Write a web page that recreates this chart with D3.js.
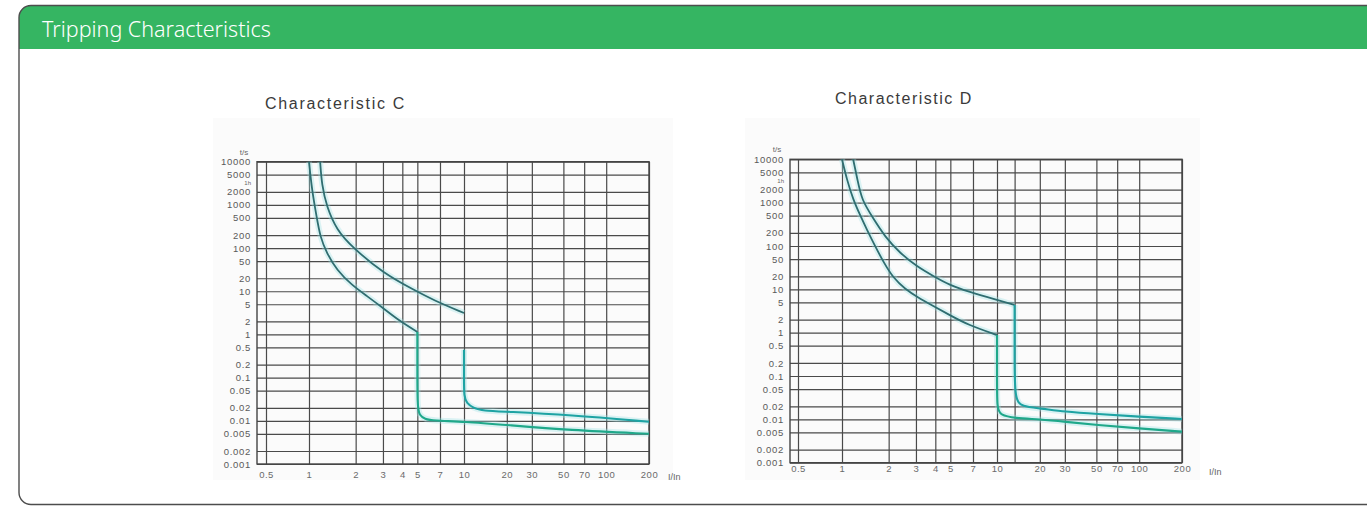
<!DOCTYPE html>
<html>
<head>
<meta charset="utf-8">
<script src="https://cdn.jsdelivr.net/npm/d3@7"></script>
<style>
  body { margin: 0; background: #fff; }
  svg { display: block; }
</style>
</head>
<body>
<div id="chart"></div>
<script>
// grid / tick values
const xTicks = [0.5, 1, 2, 3, 4, 5, 7, 10, 20, 30, 50, 70, 100, 200]
const yTicks = [10000, 5000, 2000, 1000, 500, 200, 100, 50, 20, 10, 5, 2, 1, 0.5, 0.2, 0.1, 0.05, 0.02, 0.01, 0.005, 0.002, 0.001]
const dExtraGrid = [13.3]

// characteristic C  [I/In, t in s]
const cLowerThermal = [[1, 10000], [1.045, 2200], [1.12, 530], [1.18, 183], [1.3, 77], [1.51, 31], [1.89, 13.9], [2.36, 7.8], [3, 4.1], [3.8, 2.1], [5, 1.14]]
const cLowerMagnetic = [[5, 1.14], [5, 0.3], [5, 0.021], [5.15, 0.0135], [5.6, 0.011], [6.3, 0.0101], [10, 0.0096], [20, 0.008], [55, 0.0061], [200, 0.005]]
const cUpperThermal = [[1.18, 10000], [1.21, 2900], [1.3, 906], [1.51, 262], [1.89, 107], [3, 26.4], [4.76, 10.7], [6.31, 6.3], [10, 3.13]]
const cUpperMagnetic = [[10, 0.44], [10, 0.1], [10, 0.036], [10.45, 0.0258], [11.6, 0.0198], [13.6, 0.0171], [20, 0.0163], [55, 0.0137], [200, 0.0095]]

// characteristic D
const dLowerThermal = [[1, 10000], [1.077, 3335], [1.183, 1150], [1.307, 519], [1.45, 234], [1.633, 100], [1.866, 40.5], [2.143, 18.3], [2.551, 10.2], [3.06, 6.65], [3.88, 4.13], [4.93, 2.56], [6.53, 1.5], [10, 0.88]]
const dLowerMagnetic = [[10, 0.88], [10, 0.1], [10, 0.018], [10.5, 0.0126], [13.3, 0.0106], [20, 0.01], [30, 0.0088], [50, 0.0074], [100, 0.0062], [200, 0.0052]]
const dUpperThermal = [[1.18, 10000], [1.26, 3300], [1.34, 1150], [1.59, 436], [1.89, 164], [2.37, 68], [3.06, 33.3], [3.88, 20.3], [4.93, 12.6], [6.53, 8.8], [10, 5.68], [13.3, 4.35]]
const dUpperMagnetic = [[13.3, 4.35], [13.3, 0.3], [13.3, 0.028], [15, 0.0196], [20, 0.018], [30, 0.015], [50, 0.0133], [100, 0.0115], [200, 0.0102]]

const W = 1367
const H = 506
const FONT = '"Liberation Sans", Arial, sans-serif'

const svg = d3.select('#chart').append('svg')
  .attr('width', W)
  .attr('height', H)

// card with green header
svg.append('defs').append('clipPath').attr('id', 'card')
  .append('rect')
  .attr('x', 19).attr('y', 5.5)
  .attr('width', 1420).attr('height', 499)
  .attr('rx', 12)

svg.append('rect')
  .attr('x', 19).attr('y', 5.5)
  .attr('width', 1420).attr('height', 499)
  .attr('rx', 12)
  .attr('fill', '#fff')

svg.append('rect')
  .attr('clip-path', 'url(#card)')
  .attr('x', 19).attr('y', 5.5)
  .attr('width', 1420).attr('height', 43.5)
  .attr('fill', '#35b562')

svg.append('rect')
  .attr('x', 19).attr('y', 5.5)
  .attr('width', 1420).attr('height', 499)
  .attr('rx', 12)
  .attr('fill', 'none')
  .attr('stroke', '#4d4d4d')
  .attr('stroke-width', 1.4)

svg.append('text')
  .attr('x', 42).attr('y', 37)
  .attr('fill', '#fff')
  .style('font-family', '"Noto Sans", sans-serif')
  .style('font-size', '21.5px')
  .style('font-weight', 300)
  .text('Tripping Characteristics')

const line = (x, y) => d3.line()
  .x(d => x(d[0]))
  .y(d => y(d[1]))
  .curve(d3.curveBasis)

function drawChart(cfg) {
  const x = d3.scaleLog().domain([0.5, 1, 10, 200]).range(cfg.xRange)
  const y = d3.scaleLog().domain([0.001, 10000]).range(cfg.yRange)
  const left = cfg.frameLeft
  const right = cfg.xRange[cfg.xRange.length - 1]
  const top = cfg.yRange[1]
  const bottom = cfg.yRange[0]
  const g = svg.append('g')

  // faint scan background
  g.append('rect')
    .attr('x', cfg.bg[0]).attr('y', cfg.bg[1])
    .attr('width', cfg.bg[2]).attr('height', cfg.bg[3])
    .attr('fill', '#fbfbfb')

  g.append('text')
    .attr('x', cfg.titleX).attr('y', cfg.titleY)
    .attr('fill', '#3a3a3a')
    .style('font-family', FONT)
    .style('font-size', '16px')
    .style('letter-spacing', cfg.titleSpacing)
    .text(cfg.title)

  // vertical grid lines
  g.append('g')
    .attr('transform', `translate(0,${bottom})`)
    .call(d3.axisBottom(x).tickValues(xTicks.concat(cfg.extraGrid)).tickSize(-(bottom - top)).tickFormat(''))
    .call(a => a.select('.domain').remove())
    .call(a => a.selectAll('line').attr('stroke', '#4a4a4a').attr('stroke-width', 1.2))

  // horizontal grid lines + y labels
  g.append('g')
    .attr('transform', `translate(${left},0)`)
    .call(d3.axisLeft(y).tickValues(yTicks).tickSize(-(right - left)).tickPadding(6).tickFormat(d => String(d)))
    .call(a => a.select('.domain').remove())
    .call(a => a.selectAll('line').attr('stroke', '#4a4a4a').attr('stroke-width', 1.2))
    .call(a => a.selectAll('text')
      .attr('fill', '#5a5a5a')
      .style('font-family', FONT)
      .style('font-size', '9.5px')
      .style('letter-spacing', '0.7px'))

  // x labels
  g.append('g')
    .attr('transform', `translate(0,${bottom})`)
    .call(d3.axisBottom(x).tickValues(xTicks).tickSize(0).tickPadding(cfg.xPad).tickFormat(d => String(d)))
    .call(a => a.select('.domain').remove())
    .call(a => a.selectAll('text')
      .attr('fill', '#6a6a6a')
      .style('font-family', FONT)
      .style('font-size', '9.5px')
      .style('letter-spacing', '0.5px'))

  // frame
  g.append('rect')
    .attr('x', left).attr('y', top)
    .attr('width', right - left).attr('height', bottom - top)
    .attr('fill', 'none')
    .attr('stroke', '#444')
    .attr('stroke-width', 1.4)

  const small = (sel, size) => sel
    .attr('fill', '#666')
    .style('font-family', FONT)
    .style('font-size', size)

  g.append('text').attr('x', left - 13).attr('y', top - 7).attr('text-anchor', 'middle').text('t/s').call(small, '8px')
  g.append('text').attr('x', left - 6).attr('y', y(3600) + 4.6).attr('text-anchor', 'end').text('1h').call(small, '6px')
  g.append('text').attr('x', right + cfg.iinDx).attr('y', bottom + cfg.xPad + 9).text('I/In').call(small, '9px')

  const gen = line(x, y)
  const all = cfg.thermal.concat(cfg.magnetic)
  // light cyan halo of the scan
  all.forEach(d => {
    g.append('path').attr('d', gen(d))
      .attr('fill', 'none').attr('stroke', '#9fe3e6').attr('stroke-opacity', 0.35).attr('stroke-width', 6)
  })
  cfg.thermal.forEach(d => {
    g.append('path').attr('d', gen(d))
      .attr('fill', 'none').attr('stroke', '#2f6d70').attr('stroke-width', 1.8)
  })
  cfg.magnetic.forEach((d, i) => {
    g.append('path').attr('d', gen(d))
      .attr('fill', 'none').attr('stroke', i === 0 ? '#1fa88a' : '#1ea3a3').attr('stroke-width', 2.1)
  })
}

drawChart({
  title: 'Characteristic C', titleX: 265, titleY: 109, titleSpacing: '1.7px',
  xRange: [266, 309, 464, 649], yRange: [464, 161.7], frameLeft: 257,
  extraGrid: [], xPad: 7, iinDx: 19, bg: [213, 118, 460, 362],
  thermal: [cLowerThermal, cUpperThermal],
  magnetic: [cLowerMagnetic, cUpperMagnetic]
})

drawChart({
  title: 'Characteristic D', titleX: 835, titleY: 104, titleSpacing: '1.5px',
  xRange: [798, 842, 997, 1182], yRange: [462.7, 159.3], frameLeft: 790,
  extraGrid: dExtraGrid, xPad: 3, iinDx: 27, bg: [745, 118, 455, 362],
  thermal: [dLowerThermal, dUpperThermal],
  magnetic: [dLowerMagnetic, dUpperMagnetic]
})
</script>
</body>
</html>
